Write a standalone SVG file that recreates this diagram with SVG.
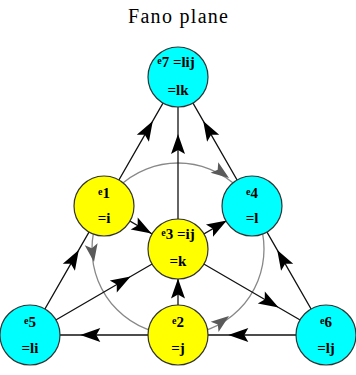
<svg xmlns="http://www.w3.org/2000/svg" xmlns:xlink="http://www.w3.org/1999/xlink" width="356" height="375" viewBox="0 0 356 375">
<style>
.title{font-family:"Liberation Serif",serif;font-size:20px;fill:#000}
.edge{fill:none;stroke:#111;stroke-width:1.3;marker-mid:url(#ah)}
.ring{fill:none;stroke:#888;stroke-width:1.3}
.y{fill:#ffff00;stroke:#333;stroke-width:1.2}
.c{fill:#00ffff;stroke:#333;stroke-width:1.2}
.lbl{font-family:"Liberation Serif",serif;font-size:15px;font-weight:bold;fill:#000;text-anchor:middle}
.e{font-size:10px}
</style>
<defs>
<marker id="ah" markerWidth="24" markerHeight="16" refX="21" refY="8" orient="auto" markerUnits="userSpaceOnUse">
<path d="M21,8 L1,1 L5,8 L1,15 Z" fill="#000"/>
</marker>
<path id="gah" d="M0,0 L-18,-6.5 L-14,0 L-18,6.5 Z" fill="#5a5a5a"/>
</defs>
<text class="title" x="178" y="23" text-anchor="middle" textLength="100">Fano plane</text>
<g id="ring">
<circle class="ring" cx="178" cy="249" r="86"/>
<use xlink:href="#gah" transform="translate(229,178) rotate(36)"/>
<use xlink:href="#gah" transform="translate(94,262) rotate(81)"/>
<use xlink:href="#gah" transform="translate(229,316) rotate(-37)"/>
</g>
<g id="connectors">
<path class="edge" d="M30,335 L78.8,249.9 L104,206"/>
<path class="edge" d="M104,206 L152.8,120.9 L178,77"/>
<path class="edge" d="M326,335 L277.2,249.9 L252,206"/>
<path class="edge" d="M252,206 L203.2,120.9 L178,77"/>
<path class="edge" d="M326,335 L228.3,335 L178,335"/>
<path class="edge" d="M178,335 L80.3,335 L30,335"/>
<path class="edge" d="M178,335 L178,278.5 L178,249"/>
<path class="edge" d="M178,249 L178,134 L178,77"/>
<path class="edge" d="M104,206 L151.5,233.6 L178,249"/>
<path class="edge" d="M178,249 L278.6,307.5 L326,335"/>
<path class="edge" d="M30,335 L130.6,276.5 L178,249"/>
<path class="edge" d="M178,249 L226.8,220.6 L252,206"/>
</g>
<g id="e7">
<circle class="c" cx="178" cy="77" r="30"/>
<text class="lbl" x="176" y="67"><tspan class="e" dy="-3">e</tspan><tspan dy="3">7 =lij</tspan></text>
<text class="lbl" x="178" y="95">=lk</text>
</g>
<g id="e1">
<circle class="y" cx="104" cy="206" r="30"/>
<text class="lbl" x="104" y="198"><tspan class="e" dy="-3">e</tspan><tspan dy="3">1</tspan></text>
<text class="lbl" x="104" y="223">=i</text>
</g>
<g id="e4">
<circle class="c" cx="252" cy="206" r="30"/>
<text class="lbl" x="252" y="198"><tspan class="e" dy="-3">e</tspan><tspan dy="3">4</tspan></text>
<text class="lbl" x="252" y="223">=l</text>
</g>
<g id="e3">
<circle class="y" cx="178" cy="249" r="30"/>
<text class="lbl" x="178" y="239"><tspan class="e" dy="-3">e</tspan><tspan dy="3">3 =ij</tspan></text>
<text class="lbl" x="178" y="266">=k</text>
</g>
<g id="e5">
<circle class="c" cx="30" cy="335" r="30"/>
<text class="lbl" x="30" y="327"><tspan class="e" dy="-3">e</tspan><tspan dy="3">5</tspan></text>
<text class="lbl" x="30" y="353">=li</text>
</g>
<g id="e2">
<circle class="y" cx="178" cy="335" r="30"/>
<text class="lbl" x="178" y="327"><tspan class="e" dy="-3">e</tspan><tspan dy="3">2</tspan></text>
<text class="lbl" x="178" y="353">=j</text>
</g>
<g id="e6">
<circle class="c" cx="326" cy="335" r="30"/>
<text class="lbl" x="326" y="327"><tspan class="e" dy="-3">e</tspan><tspan dy="3">6</tspan></text>
<text class="lbl" x="326" y="353">=lj</text>
</g>
</svg>
